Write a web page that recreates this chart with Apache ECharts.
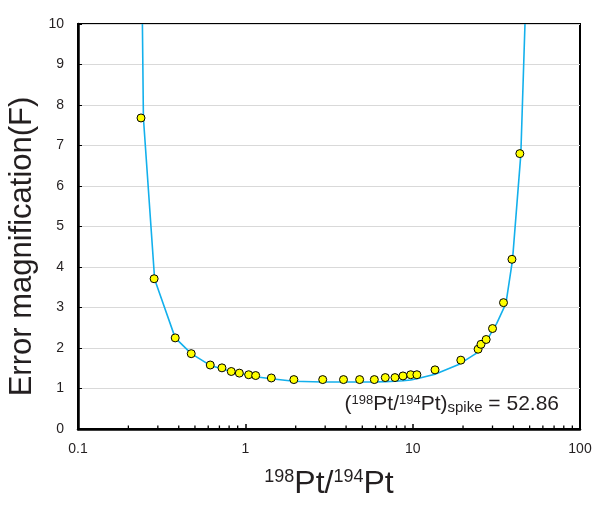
<!DOCTYPE html>
<html>
<head>
<meta charset="utf-8">
<script src="https://cdn.jsdelivr.net/npm/echarts@6/dist/echarts.min.js"></script>
<style>
html,body{margin:0;padding:0;background:#fff;}
#c{width:596px;height:507px;}
</style>
</head>
<body>
<div id="c"></div>
<script>
// measured points: 198Pt/194Pt ratio and error magnification F
var ptX = [0.238, 0.285, 0.381, 0.475, 0.617, 0.725, 0.824, 0.921, 1.047, 1.153, 1.43, 1.95, 2.90, 3.86, 4.82, 5.90, 6.86, 7.84, 8.75, 9.73, 10.6, 13.6, 19.4, 24.6, 25.6, 27.5, 30.0, 34.9, 39.2, 43.7];
var ptY = [7.68, 3.71, 2.25, 1.86, 1.58, 1.51, 1.42, 1.38, 1.34, 1.32, 1.26, 1.22, 1.22, 1.22, 1.22, 1.22, 1.27, 1.27, 1.31, 1.34, 1.34, 1.46, 1.70, 1.97, 2.09, 2.21, 2.48, 3.12, 4.19, 6.80];
// theoretical curve
var curveX = [0.2426, 0.246, 0.287, 0.381, 0.475, 0.617, 0.725, 0.824, 0.921, 1.05, 1.15, 1.43, 1.95, 2.9, 3.86, 4.82, 5.9, 6.86, 7.84, 8.75, 9.73, 10.6, 13.6, 19.0, 24.9, 28.6, 31.8, 36.1, 39.5, 44.3, 46.9];
var curveY = [10, 7.68, 3.70, 2.25, 1.86, 1.57, 1.49, 1.42, 1.37, 1.33, 1.29, 1.24, 1.18, 1.16, 1.16, 1.16, 1.16, 1.17, 1.18, 1.19, 1.21, 1.24, 1.35, 1.60, 1.91, 2.28, 2.61, 3.10, 4.17, 6.78, 10];
// minor tick positions on the log axis
var minorTicks = [0.2, 0.3, 0.4, 0.5, 0.6, 0.7, 0.8, 0.9, 2, 3, 4, 5, 6, 7, 8, 9, 20, 30, 40, 50, 60, 70, 80, 90];
var spikeRatio = '52.86';

var FONT = '"Liberation Sans", Arial, sans-serif';
var TXT = '#231f20';

var chart = echarts.init(document.getElementById('c'), null, {renderer: 'canvas'});
chart.setOption({
  animation: false,
  backgroundColor: '#fff',
  textStyle: {fontFamily: FONT},
  grid: {left: 78, right: 16, top: 24, bottom: 78, show: true, borderColor: '#000', borderWidth: 2, backgroundColor: 'transparent', containLabel: false, outerBoundsMode: 'none'},
  xAxis: {
    type: 'log', logBase: 10, min: 0.1, max: 100,
    name: '{s|198}{b|Pt/}{s|194}{b|Pt}',
    nameLocation: 'middle', nameGap: 39,
    nameTextStyle: {color: TXT, fontFamily: FONT, rich: {
      s: {fontSize: 18, verticalAlign: 'top', color: TXT, fontFamily: FONT},
      b: {fontSize: 32, color: TXT, fontFamily: FONT}
    }},
    axisLine: {show: true, lineStyle: {color: '#000', width: 2.5}},
    axisTick: {show: true, inside: true, length: 5, lineStyle: {color: '#000', width: 1.5}},
    minorTick: {show: false},
    splitLine: {show: false},
    axisLabel: {fontSize: 14, color: TXT, margin: 13, fontFamily: FONT}
  },
  yAxis: {
    type: 'value', min: 0, max: 10, interval: 1,
    name: 'Error magnification(F)',
    nameLocation: 'middle', nameGap: 40,
    nameTextStyle: {fontSize: 31, color: TXT, fontFamily: FONT, padding: [0, 40, 0, 0]},
    axisLine: {show: true, lineStyle: {color: '#000', width: 2.5}},
    axisTick: {show: true, inside: true, length: 4, lineStyle: {color: '#000', width: 1}},
    splitLine: {show: true, lineStyle: {color: '#d9d9d9', width: 1}},
    axisLabel: {fontSize: 14, color: TXT, margin: 14, fontFamily: FONT}
  },
  series: [
    {
      type: 'line', data: curveX.map(function (x, i) { return [x, curveY[i]]; }),
      showSymbol: false, symbol: 'none', smooth: false,
      lineStyle: {color: '#13b0ec', width: 1.6}, z: 2, silent: true
    },
    {
      type: 'scatter', data: ptX.map(function (x, i) { return [x, ptY[i]]; }),
      symbol: 'circle', symbolSize: 8,
      itemStyle: {color: '#ffff00', borderColor: '#000', borderWidth: 1, opacity: 1}, z: 3
    },
    {
      type: 'custom', silent: true, clip: false, z: 4,
      data: minorTicks.map(function (v) { return [v, 0]; }),
      renderItem: function (params, api) {
        var p = api.coord([api.value(0), 0]);
        return {type: 'line', shape: {x1: p[0], y1: p[1], x2: p[0], y2: p[1] - 3.5}, style: {stroke: '#000', lineWidth: 1.3}};
      }
    }
  ],
  graphic: [{
    type: 'text', right: 37, top: 394, z: 10,
    style: {
      text: '{m|(}{s|198}{m|Pt/}{s|194}{m|Pt)}{b|spike}{m| = ' + spikeRatio + '}',
      fill: TXT, font: '20px ' + FONT,
      rich: {
        m: {fontSize: 21, fill: TXT, fontFamily: FONT},
        s: {fontSize: 13, verticalAlign: 'top', fill: TXT, fontFamily: FONT},
        b: {fontSize: 15, verticalAlign: 'bottom', fill: TXT, fontFamily: FONT}
      }
    }
  }]
});
</script>
</body>
</html>
